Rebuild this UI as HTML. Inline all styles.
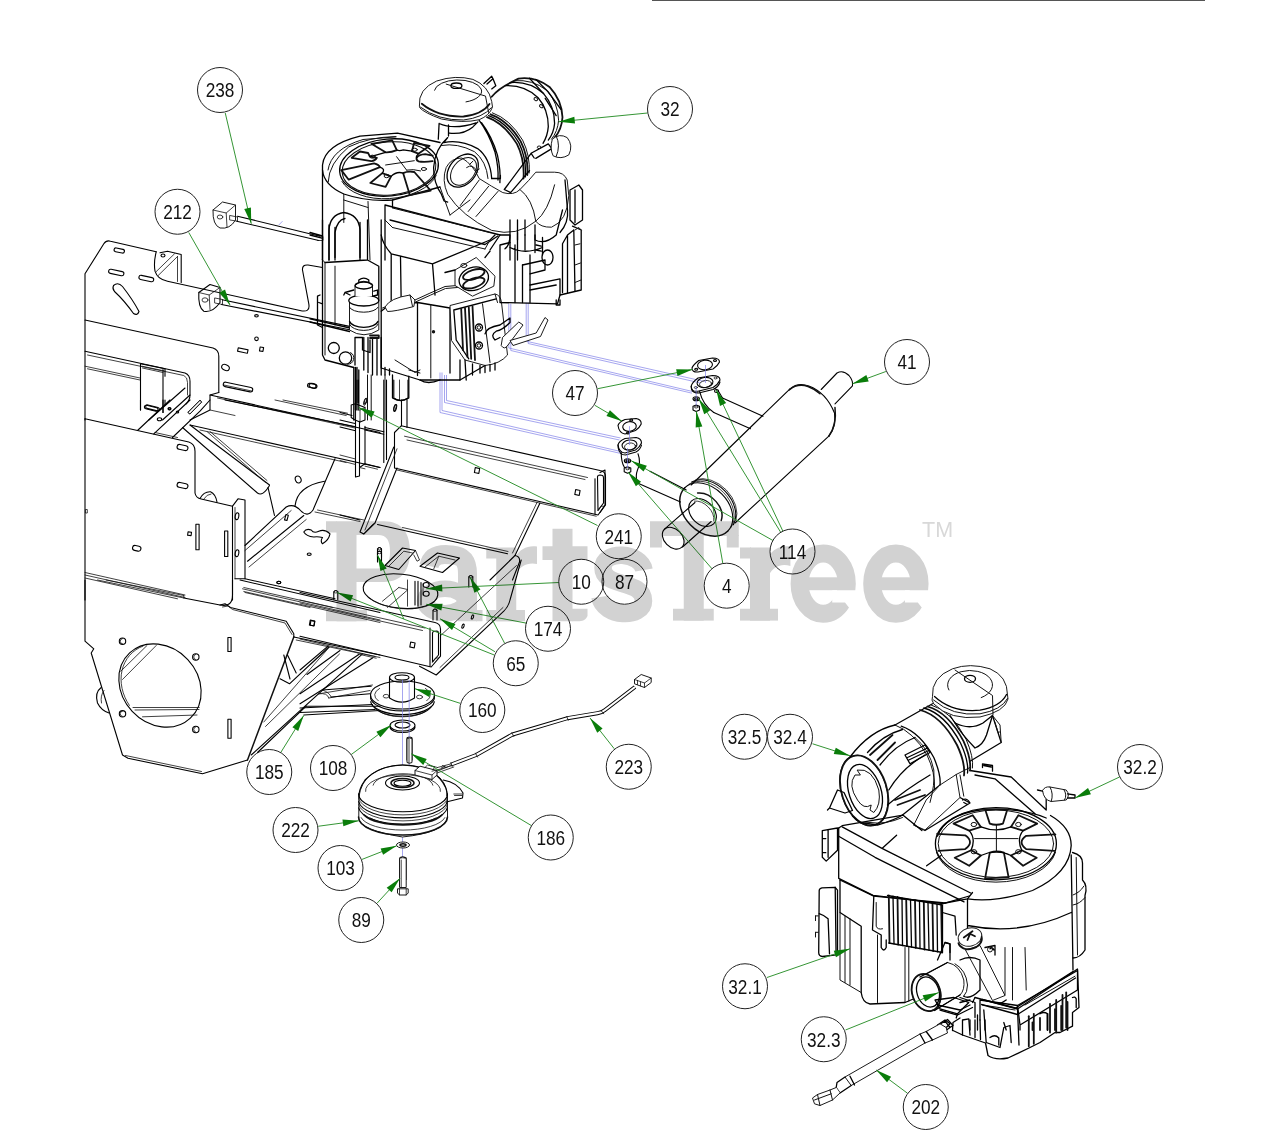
<!DOCTYPE html>
<html><head><meta charset="utf-8"><title>Parts Diagram</title>
<style>
html,body{margin:0;padding:0;background:#fff;}
body{width:1280px;height:1145px;overflow:hidden;font-family:"Liberation Sans",sans-serif;}
svg{display:block;position:absolute;left:0;top:0;}
.k{fill:none;stroke:#000;stroke-width:1.1;stroke-linecap:round;stroke-linejoin:round;}
.k2{fill:none;stroke:#111;stroke-width:1.5;stroke-linecap:round;stroke-linejoin:round;}
.t{fill:none;stroke:#111;stroke-width:.8;stroke-linecap:round;stroke-linejoin:round;}
.w{fill:#fff;stroke:#1a1a1a;stroke-width:1;stroke-linejoin:round;}
.e .k{stroke-width:1.3}.e .t{stroke-width:1}.e .k2{stroke-width:1.8}
.f{fill:#fff;stroke:none;}
.b{fill:none;stroke:#7f7fe8;stroke-width:.7;}
.g line{stroke:#2a8f2a;stroke-width:.95;}
.g polygon{fill:#0a7d0a;stroke:none;}
.c{opacity:.999}.c circle{fill:none;stroke:#222;stroke-width:1;}
.c text{font-family:"Liberation Sans",sans-serif;font-size:20.5px;fill:#111;text-anchor:middle;}
.wm{mix-blend-mode:multiply;font-family:"Liberation Serif",serif;font-weight:bold;fill:#d2d2d2;}
</style></head><body>
<svg width="1280" height="1145" viewBox="0 0 1280 1145">
<rect x="652" y="0" width="553" height="1" fill="#555"/>

<path class="k" d="M85.0,420.0L85.0,273.8L103.8,243.8Q106.2,240.0 110.5,241.2L156.2,251.8"/>
<path class="k" d="M156.2,251.8Q153.5,262.5 155.0,271.2Q157.5,279.5 167.5,281.2L300.0,310.5Q310.5,313.0 308.8,303.8L302.5,270.0Q302.0,264.5 308.0,265.0L322.5,267.5"/>
<path class="k" d="M160.0,252.8L167.5,251.2L181.2,254.5L181.2,282.5"/>
<path class="t" d="M177.5,256.5L177.5,281.5"/>
<path class="t" d="M158.2,275.5L177.5,256.5"/>
<path class="t" d="M156.0,271.8L174.5,253.8"/>
<ellipse class="k" cx="163.0" cy="255.5" rx="2.0" ry="1.5"/>
<rect class="k" x="114.0" y="248.6" width="10.5" height="3.8" rx="1.9" transform="rotate(12.0 119.2 250.5)"/>
<rect class="k" x="108.5" y="270.4" width="15.5" height="4.2" rx="2.1" transform="rotate(12.0 116.2 272.5)"/>
<rect class="k" x="138.8" y="276.4" width="15.0" height="4.2" rx="2.1" transform="rotate(12.0 146.2 278.5)"/>
<path class="k" d="M113.5,285.5Q118.0,281.5 122.5,286.5Q133.0,300.0 139.0,311.5Q137.5,316.0 133.5,313.5Q123.8,300.0 114.5,291.5Q112.0,288.5 113.5,285.5"/>
<path class="k" d="M198.8,292.5L210.0,284.5L220.0,287.5L220.0,302.5Q212.5,313.0 203.8,311.2Q198.0,307.5 198.8,292.5"/>
<path class="t" d="M198.8,292.5L209.2,295.0L220.0,287.5"/>
<path class="t" d="M209.2,295.0L210.0,309.5"/>
<ellipse class="t" cx="205.0" cy="300.0" rx="3.0" ry="2.2"/>
<path class="t" d="M215.0,298.0L222.5,299.5L222.5,304.5L215.0,303.0Z"/>
<path class="k" d="M222.2,299.8L349.5,326.4"/>
<path class="k" d="M221.5,304.5L349.5,329.8"/>
<ellipse class="k" cx="256.5" cy="315.8" rx="1.8" ry="1.2"/>
<ellipse class="k" cx="256.5" cy="338.8" rx="1.8" ry="1.8"/>
<rect class="k" x="259.8" y="347.2" width="3.5" height="4.0" transform="rotate(10.0 261.5 349.2)"/>
<rect class="k" x="237.8" y="348.8" width="10.0" height="3.5" transform="rotate(12.0 242.8 350.5)"/>
<ellipse class="k" cx="225.5" cy="367.5" rx="4.0" ry="2.8" transform="rotate(25.0 225.5 367.5)"/>
<rect class="k" x="307.5" y="383.8" width="8.5" height="4.0" rx="2.0" transform="rotate(12.0 311.8 385.8)"/>
<rect class="k" x="223.0" y="384.8" width="30.0" height="4.5" rx="2.2" transform="rotate(12.0 238.0 387.0)"/>
<path class="t" d="M223.8,385.0L252.5,391.2"/>
<path class="k" d="M85.0,320.0L213.0,348.0Q218.8,350.0 218.8,356.2L218.8,392.5"/>
<path class="k" d="M85.0,351.2L185.0,373.0Q190.0,375.0 190.0,381.2L190.0,395.0Q190.0,400.0 186.2,403.8"/>
<path class="t" d="M87.5,355.0L183.8,375.5Q187.5,377.0 187.5,382.5L187.5,395.0"/>
<path class="t" d="M85.0,366.2L140.0,378.0"/>
<path class="t" d="M87.5,368.8L140.0,380.0"/>
<path class="k" d="M140.5,363.8L165.0,368.8M140.5,363.8L140.5,410.0M163.0,369.5L163.0,412.5M165.0,368.8L165.0,376.2"/>
<path class="t" d="M142.0,366.2L163.8,370.8M142.5,368.0L163.0,372.5"/>
<rect class="k" x="145.5" y="406.2" width="14.0" height="3.5" rx="1.8" transform="rotate(14.0 152.5 408.0)"/>
<path class="k" d="M185.0,388.0L148.8,420.0"/>
<path class="k" d="M190.0,395.0L162.5,420.0"/>
<path class="k" d="M218.8,392.5L210.0,395.0L210.0,410.0L190.0,420.0"/>
<path class="t" d="M200.0,400.5L188.0,412.5L190.0,414.0L201.5,402.5Z"/>
<ellipse class="k" cx="169.5" cy="408.8" rx="1.2" ry="1.0"/>
<ellipse class="k" cx="177.5" cy="412.0" rx="1.2" ry="1.0"/>
<path class="k" d="M210.0,395.0L380.0,432.5"/>
<path class="t" d="M217.5,398.0L355.0,428.0"/>
<path class="t" d="M210.0,410.0L235.0,415.5"/>

<path class="k" d="M85.0,418.8L188.8,442.0Q195.0,444.0 195.0,451.2L195.0,493.0Q195.8,498.0 201.2,499.0L232.5,506.2L232.5,600.0"/>
<path class="k" d="M85.0,418.8L85.0,600.0"/>
<path class="k" d="M232.5,506.2L238.0,498.8L245.0,500.0L245.0,578.8"/>
<path class="t" d="M235.0,507.5L235.0,578.8"/>
<path class="k" d="M200.0,498.5Q203.8,491.5 210.5,491.8Q215.5,494.0 217.0,502.0"/>
<path class="t" d="M203.8,499.0Q207.0,494.0 211.0,494.0"/>
<path class="t" d="M85.0,572.5L185.0,595.0M85.0,575.0L185.0,597.5M85.0,578.0L177.5,598.8"/>
<rect class="k" x="177.0" y="445.0" width="11.0" height="5.0" rx="2.5" transform="rotate(12.0 182.5 447.5)"/>
<rect class="k" x="177.0" y="483.0" width="11.0" height="5.0" rx="2.5" transform="rotate(12.0 182.5 485.5)"/>
<rect class="k" x="132.5" y="545.8" width="8.5" height="5.0" rx="2.5" transform="rotate(12.0 136.8 548.2)"/>
<rect class="k" x="187.8" y="532.0" width="3.5" height="3.5" transform="rotate(8.0 189.5 533.8)"/>
<rect class="k" x="195.9" y="524.2" width="3.2" height="25.5" transform="rotate(0.0 197.5 537.0)"/>
<rect class="k" x="224.6" y="531.0" width="3.2" height="25.5" transform="rotate(0.0 226.2 543.8)"/>
<rect class="t" x="85.8" y="509.5" width="1.5" height="3.5" transform="rotate(0.0 86.5 511.2)"/>
<ellipse class="k" cx="237.0" cy="516.2" rx="1.8" ry="3.5" transform="rotate(10.0 237.0 516.2)"/>
<ellipse class="k" cx="237.0" cy="553.2" rx="1.8" ry="3.5" transform="rotate(10.0 237.0 553.2)"/>
<path class="k" d="M190.0,425.0L269.5,485.0"/>
<path class="k" d="M182.5,427.5L257.5,493.0Q262.5,497.0 269.5,485.5"/>
<path class="t" d="M207.5,432.0L265.5,482.5"/>
<path class="t" d="M210.0,431.5L267.0,480.5"/>
<path class="k" d="M268.0,487.5L274.5,515.5"/>
<path class="k" d="M190.0,425.0L380.0,467.5"/>
<path class="t" d="M200.0,430.0L346.2,462.5"/>
<path class="t" d="M155.0,432.5L177.5,437.5"/>
<path class="k" d="M225.0,400.0L354.5,426.5"/>
<path class="t" d="M275.0,400.0L346.2,415.5M283.0,400.0L347.5,413.2"/>
<path class="k" d="M137.5,430.5L170.0,400.0M153.8,433.8L190.0,400.0"/>
<path class="k" d="M172.5,437.5L200.0,411.2L210.0,400.0"/>
<ellipse class="k" cx="159.5" cy="419.2" rx="2.2" ry="1.5"/>
<ellipse class="k" cx="169.5" cy="408.8" rx="1.5" ry="1.2"/>
<path class="t" d="M188.0,412.0L200.0,400.0L201.5,402.0L190.0,413.8Z"/>
<path class="k" d="M140.5,400.0L140.5,410.0M163.0,400.0L163.0,412.5M165.0,400.0L165.0,405.0"/>
<rect class="k" x="144.2" y="406.5" width="14.0" height="3.5" rx="1.8" transform="rotate(14.0 151.2 408.2)"/>
<path class="k" d="M245.0,545.5L286.2,507.0Q293.8,503.0 300.5,510.5Q307.5,518.0 313.0,510.0L335.0,458.8"/>
<path class="k" d="M247.5,561.2L303.8,515.5"/>
<path class="t" d="M245.0,550.5L291.2,510.5M249.0,567.0L306.2,519.5"/>
<rect class="k" x="285.2" y="514.8" width="2.5" height="5.5" transform="rotate(15.0 286.5 517.5)"/>
<path class="k" d="M295.0,506.0Q297.0,486.2 324.5,481.2"/>
<ellipse class="k" cx="298.2" cy="479.5" rx="2.8" ry="3.5" transform="rotate(-25.0 298.2 479.5)"/>
<path class="k" d="M235.0,578.8L245.0,578.8L335.0,598.8"/>
<path class="t" d="M243.8,587.5L332.5,607.5M245.0,592.5L310.0,607.5"/>
<path class="t" d="M317.5,510.0L363.8,520.0M315.0,512.0L360.0,521.5"/>
<path class="k" d="M303.8,532.0Q306.2,528.0 311.2,530.0Q313.8,533.8 318.8,531.2Q325.0,528.8 330.0,533.8Q328.8,540.0 322.5,543.8Q320.0,541.2 322.5,537.5Q317.5,536.2 313.8,537.0Q306.2,536.2 303.8,532.0"/>
<ellipse class="k" cx="309.2" cy="554.2" rx="2.0" ry="1.2"/>
<ellipse class="k" cx="278.8" cy="582.5" rx="2.0" ry="1.2"/>

<path class="k" d="M85.0,580.0L85.0,641.2L93.8,648.8L91.2,653.0L122.5,755.0L128.0,758.2L202.5,773.8L247.5,760.0"/>
<path class="k2" d="M247.5,760.0L293.8,637.0"/>
<path class="t" d="M125.5,755.5L201.5,771.5"/>
<path class="t" d="M97.5,580.0L183.8,598.0L183.8,595.5M106.2,580.0L183.8,595.5"/>
<path class="k" d="M183.8,598.0L220.0,605.0Q232.5,607.5 232.5,595.0L232.5,580.0"/>
<path class="k" d="M220.0,605.0L225.0,603.8L230.5,607.5L286.2,621.2L293.8,633.8L293.8,637.0"/>
<path class="t" d="M222.5,607.0L228.0,606.0L232.5,609.5L285.0,623.0L292.0,634.5"/>
<path class="k" d="M240.0,580.0L380.0,612.5"/>
<path class="t" d="M242.5,588.8L380.0,620.0M243.8,591.5L380.0,622.5"/>
<path class="k" d="M293.8,637.0L380.0,655.0"/>
<path class="t" d="M296.2,640.0L380.0,657.5"/>
<rect class="k" x="310.5" y="621.0" width="4.0" height="4.5" transform="rotate(10.0 312.5 623.2)"/>
<ellipse class="k" cx="278.8" cy="582.5" rx="2.0" ry="1.2"/>
<ellipse class="k" cx="160.0" cy="685.5" rx="44.5" ry="38.0" transform="rotate(47.0 160.0 685.5)"/>
<path class="t" d="M129.4,705.4A44.5,38.0 47.0 0 1 143.0,646.1"/>
<ellipse class="k" cx="122.5" cy="641.2" rx="3.2" ry="3.2"/>
<path class="t" d="M122.5,644.0A2.8,2.8 0.0 0 1 122.5,638.5"/>
<ellipse class="k" cx="195.8" cy="657.0" rx="3.2" ry="3.2"/>
<path class="t" d="M195.8,659.7A2.8,2.8 0.0 0 1 195.8,654.3"/>
<ellipse class="k" cx="122.5" cy="713.8" rx="3.2" ry="3.2"/>
<path class="t" d="M122.5,716.5A2.8,2.8 0.0 0 1 122.5,711.0"/>
<ellipse class="k" cx="195.8" cy="729.5" rx="3.2" ry="3.2"/>
<path class="t" d="M195.8,732.2A2.8,2.8 0.0 0 1 195.8,726.8"/>
<rect class="k" x="227.9" y="637.5" width="3.2" height="14.0" transform="rotate(0.0 229.5 644.5)"/>
<rect class="k" x="227.9" y="719.2" width="3.2" height="19.0" transform="rotate(0.0 229.5 728.8)"/>
<path class="t" d="M120.8,671.2L147.0,645.5M122.5,679.5L156.2,645.5"/>
<path class="t" d="M133.0,707.5L199.2,707.5M135.0,710.0L199.0,709.5M142.5,716.8L197.0,715.0"/>
<path class="k" d="M101.2,687.5Q94.5,692.5 97.5,703.0Q101.2,710.5 109.0,713.0"/>
<path class="t" d="M104.0,690.5Q100.0,695.5 101.5,703.0"/>
<path class="k" d="M251.2,755.0L362.5,653.8"/>
<path class="t" d="M263.8,722.0L329.5,647.0M265.5,726.5L339.5,654.0"/>
<path class="k" d="M257.5,752.5L306.2,706.2"/>
<path class="k" d="M283.8,655.0L290.0,679.0M287.5,655.0L296.2,673.0"/>
<path class="k" d="M280.0,678.8L289.5,683.8L328.8,647.0"/>
<path class="k" d="M306.2,706.2L380.0,706.2M303.8,715.0L380.0,710.5"/>
<path class="t" d="M318.8,693.8L372.5,685.0M328.8,698.0L370.0,690.5M318.8,693.8Q327.5,692.5 328.8,698.0"/>

<path class="k" d="M394.5,468.0L394.5,432.5L401.2,425.8L600.0,470.5Q605.5,471.5 605.5,476.5L605.5,505.0L598.0,515.0L394.5,468.0"/>
<path class="t" d="M404.5,436.2L587.5,477.5M407.0,440.0L585.0,479.5"/>
<path class="t" d="M397.0,470.0L596.2,516.2"/>
<path class="k" d="M595.0,478.8L595.0,513.8"/>
<path class="k" d="M597.5,477.0Q597.5,475.0 600.0,475.0L602.5,475.5Q603.5,476.0 603.5,478.0L603.5,503.0L598.0,510.5Z"/>
<path class="t" d="M598.0,510.5L601.0,506.2L603.5,506.2"/>
<rect class="k" x="474.8" y="468.0" width="4.5" height="5.0" transform="rotate(10.0 477.0 470.5)"/>
<rect class="k" x="575.2" y="490.0" width="4.5" height="5.0" transform="rotate(10.0 577.5 492.5)"/>
<path class="k" d="M355.5,380.0L355.5,477.0L359.5,476.0L359.5,421.2M357.0,380.0L357.0,402.5M358.5,380.0L358.5,402.5"/>
<path class="k" d="M351.2,405.0L355.5,403.8L365.0,407.5L365.0,420.0L360.0,422.0L355.0,420.0L351.2,417.5Z"/>
<path class="t" d="M355.5,403.8L355.5,420.0M360.0,410.0L360.0,422.0M360.0,410.0L365.0,407.5"/>
<ellipse class="t" cx="365.0" cy="402.0" rx="1.2" ry="3.5" transform="rotate(15.0 365.0 402.0)"/>
<path class="k" d="M365.0,426.2L365.0,463.8L359.5,467.5"/>
<path class="k" d="M383.8,380.0L383.8,462.5M386.5,380.0L386.5,459.5M401.5,400.0L401.5,425.8M407.0,399.5L407.0,427.5"/>
<path class="k" d="M393.8,380.0L393.8,398.0Q400.5,403.0 408.0,398.0L408.0,380.0"/>
<path class="t" d="M399.5,380.0L399.5,400.5"/>
<ellipse class="k" cx="395.2" cy="408.0" rx="1.2" ry="3.5" transform="rotate(15.0 395.2 408.0)"/>
<path class="k" d="M393.8,447.0L360.0,532.0L363.8,534.0L375.0,523.0L397.0,468.0"/>
<path class="t" d="M397.0,448.8L365.0,530.0"/>
<path class="t" d="M375.0,523.0L372.0,525.0L363.8,534.0"/>
<path class="k" d="M340.0,412.5L352.0,415.5M340.0,420.0L355.0,423.5M340.0,427.0L355.5,430.8M365.0,427.5L383.8,431.8M365.0,430.0L383.8,434.2"/>
<path class="t" d="M340.0,455.0L355.5,459.0M340.0,460.5L355.5,464.5M365.0,466.2L377.5,469.2M359.5,467.5L365.0,468.8"/>
<path class="k" d="M365.0,463.8L380.0,467.5"/>
<path class="k" d="M340.0,515.0L360.0,520.0M377.5,524.5L507.5,553.8"/>
<path class="t" d="M402.5,527.5L508.0,551.5"/>
<path class="k" d="M540.0,503.0L515.0,555.5Q520.5,556.5 519.5,562.0L512.5,580.0"/>
<path class="t" d="M537.0,502.5L512.5,553.0"/>
<path class="k" d="M515.0,555.5L490.0,580.0"/>
<path class="k" d="M385.0,565.5L402.5,548.0L415.5,550.5L398.8,569.5Z"/>
<path class="t" d="M388.8,566.2L403.8,551.2L412.5,553.0M415.5,550.5L419.5,560.0L417.0,561.2L413.8,555.0"/>
<path class="k" d="M420.0,566.2L437.5,553.0L459.5,558.0L442.5,572.5Z"/>
<path class="t" d="M425.0,567.0L438.8,556.2L455.0,560.0M438.8,556.2L433.8,568.8"/>
<path class="k" d="M377.5,562.0L377.5,552.5Q379.2,550.0 381.5,552.5L381.5,562.0"/>
<ellipse class="t" cx="379.5" cy="552.5" rx="2.0" ry="1.2"/>

<path class="k" d="M300.0,592.5L435.0,622.5Q440.5,623.8 440.5,629.0L440.5,656.2L431.2,667.0L300.0,636.2"/>
<path class="t" d="M300.0,600.0L425.0,628.0M300.0,603.0L422.5,630.5"/>
<path class="t" d="M300.0,639.0L375.0,656.5M358.0,654.0L376.2,658.2"/>
<path class="k" d="M430.0,628.0L430.0,666.2"/>
<path class="k" d="M432.5,633.0Q432.5,631.5 434.5,631.2L437.0,631.0Q438.5,631.2 438.5,633.0L438.5,655.0L432.5,662.0Z"/>
<path class="t" d="M432.5,662.0L435.5,658.0L438.5,658.0"/>
<rect class="k" x="309.8" y="620.5" width="4.5" height="5.0" transform="rotate(10.0 312.0 623.0)"/>
<rect class="k" x="410.2" y="642.5" width="4.5" height="5.0" transform="rotate(10.0 412.5 645.0)"/>
<path class="k" d="M521.2,560.0L510.0,600.0Q508.5,606.5 503.8,611.2L436.2,675.0L419.5,666.2"/>
<path class="t" d="M516.5,565.5L441.2,635.0"/>
<path class="t" d="M503.0,607.5L440.0,667.5"/>
<ellipse class="k" cx="463.0" cy="626.2" rx="1.0" ry="2.2" transform="rotate(20.0 463.0 626.2)"/>
<ellipse class="k" cx="472.5" cy="617.0" rx="1.0" ry="2.2" transform="rotate(20.0 472.5 617.0)"/>
<ellipse class="k" cx="400.5" cy="591.2" rx="37.5" ry="17.0" transform="rotate(6.0 400.5 591.2)"/>
<path class="t" d="M434.1,601.9A36.5,15.5 6.0 0 1 368.3,597.4"/>
<path class="t" d="M407.5,580.0L407.5,606.2M387.5,607.5L407.5,590.0M382.5,601.2L398.8,587.5M398.8,587.5L407.5,589.5"/>
<path class="k" d="M415.0,581.2L415.0,605.0M418.0,581.2L418.0,606.2M421.0,582.5L421.0,605.0"/>
<ellipse class="k" cx="426.2" cy="585.0" rx="3.0" ry="2.5"/>
<ellipse class="k" cx="426.2" cy="593.8" rx="3.0" ry="2.5"/>
<path class="t" d="M423.0,583.8L423.0,595.0"/>
<path class="k" d="M333.8,599.5L333.8,592.0Q335.8,589.0 337.8,592.0L337.8,599.5"/>
<ellipse class="t" cx="335.8" cy="591.8" rx="2.0" ry="1.2"/>
<path class="k" d="M468.8,587.0L468.8,577.0Q470.8,574.0 472.8,577.0L472.8,587.0"/>
<ellipse class="t" cx="470.8" cy="576.8" rx="2.0" ry="1.2"/>
<path class="k" d="M433.0,620.0L433.0,610.5Q435.0,607.5 437.0,610.5L437.0,620.0"/>
<ellipse class="t" cx="435.0" cy="610.2" rx="2.0" ry="1.2"/>
<path class="k" d="M377.5,557.5L377.5,549.0Q379.5,546.0 381.5,549.0L381.5,557.5"/>
<ellipse class="t" cx="379.5" cy="548.8" rx="2.0" ry="1.2"/>
<ellipse class="k" cx="402.0" cy="677.5" rx="12.5" ry="4.8"/>
<ellipse class="k" cx="402.0" cy="677.5" rx="7.0" ry="2.5"/>
<path class="k" d="M389.5,677.5L389.5,698.0Q402.0,706.2 414.5,698.0L414.5,677.5"/>
<ellipse class="k" cx="402.5" cy="695.0" rx="32.0" ry="14.0"/>
<path class="k" d="M434.4,695.8A32.0,14.0 0.0 1 1 370.6,695.8"/>
<path class="t" d="M378.3,700.8A28.0,11.5 0.0 0 1 379.6,688.4"/>
<path class="t" d="M425.4,688.4A28.0,11.5 0.0 0 1 426.7,700.8"/>
<path class="k" d="M434.4,701.7A32.0,14.0 0.0 0 1 370.6,701.7"/>
<path class="k" d="M431.0,707.0A29.5,12.5 0.0 0 1 374.0,707.0"/>
<path class="t" d="M426.3,710.4A26.2,11.0 0.0 0 1 378.7,710.4"/>
<ellipse class="t" cx="386.2" cy="696.2" rx="3.0" ry="1.8"/>
<ellipse class="t" cx="419.5" cy="697.0" rx="3.0" ry="1.8"/>
<path class="k" d="M300.0,708.0L372.5,704.5M300.0,712.5L375.0,709.5M322.5,690.0L371.2,686.2M331.2,697.0L370.0,693.8"/>
<path class="t" d="M322.5,690.0Q329.5,692.5 331.2,697.0"/>
<ellipse class="k" cx="402.5" cy="725.5" rx="12.5" ry="5.5"/>
<ellipse class="k" cx="402.5" cy="725.0" rx="7.5" ry="3.0"/>
<path class="k" d="M415.0,727.0A12.5,5.5 0.0 0 1 390.0,727.0"/>
<path class="k" d="M407.0,760.0L407.0,738.0Q409.5,736.0 412.0,738.0L412.0,760.0"/>
<path class="k" d="M300.0,670.0L328.0,646.2M307.0,674.5L340.0,650.5M300.0,693.8L358.8,654.5M300.0,703.8L372.5,658.0"/>
<path class="t" d="M310.0,665.0L325.0,651.2"/>

<path class="b" d="M508.8,303.8L508.8,348.0L692.5,391.5M510.8,303.8L510.8,350.5L692.0,393.2M526.2,302.5L526.2,341.2L704.5,381.5M528.2,302.5L528.2,343.5L700.5,383.0"/>
<path class="b" d="M440.0,372.5L440.0,412.5L621.0,453.5M442.0,372.5L442.0,410.5L622.0,451.8M444.5,375.0L444.5,402.5L619.5,440.0M446.5,375.0L446.5,400.5L620.5,438.0"/>
<path class="b" d="M278.8,225.0L282.5,221.2"/>
<path class="w" d="M213.0,210.0L222.5,202.0L235.5,205.0L235.5,220.0Q230.0,229.5 220.0,228.0Q212.5,225.0 213.0,210.0Z"/>
<path class="t" d="M213.0,210.0L226.2,213.0L235.5,205.0M226.2,213.0L227.0,227.0"/>
<ellipse class="t" cx="220.0" cy="217.0" rx="2.8" ry="2.0"/>
<path class="t" d="M230.0,215.5L237.5,217.0L237.5,221.2L230.0,220.0Z"/>
<path class="k" d="M237.5,216.2L320.0,236.2M236.8,221.2L318.8,240.5"/>
<path class="t" d="M316.2,235.0L323.0,236.5L323.0,240.5L317.5,240.5"/>

<path class="k" d="M691.2,485.0L790.0,388.8"/>
<path class="k" d="M735.0,523.0L828.8,436.2"/>
<path class="k" d="M790.0,388.8Q798.0,382.0 808.8,386.0Q826.2,392.5 834.5,413.0Q836.5,426.2 828.8,436.2"/>
<path class="k2" d="M789.2,390.0Q797.5,383.0 808.0,386.5Q815.0,389.0 820.0,393.8"/>
<path class="k2" d="M835.0,407.5Q837.0,425.0 828.8,436.2"/>
<path class="k" d="M821.2,389.5L837.0,373.0Q843.0,369.5 849.0,375.5Q853.2,380.5 852.5,385.8L835.0,403.8"/>
<path class="k2" d="M727.6,531.3A30.5,22.0 45.7 0 1 684.9,487.7"/>
<path class="k" d="M684.9,487.7A30.5,22.0 45.7 0 1 727.6,531.3"/>
<path class="t" d="M688.8,484.2A30.5,22.0 45.7 0 1 731.0,527.5"/>
<path class="k" d="M691.7,482.0A30.5,22.0 45.7 0 1 733.4,524.7"/>
<path class="t" d="M695.9,479.5A30.5,22.0 45.7 0 1 735.9,520.5"/>
<path class="k" d="M695.0,502.5L664.5,529.2M711.2,521.5L682.5,547.0"/>
<ellipse class="k" cx="702.5" cy="512.5" rx="16.0" ry="11.5" transform="rotate(45.7 702.5 512.5)"/>
<path class="t" d="M694.4,501.1A16.0,11.5 45.7 0 1 713.8,520.9"/>
<path class="k2" d="M697.6,493.0A20.0,14.5 45.7 0 1 721.2,520.5"/>
<ellipse class="k" cx="673.2" cy="538.2" rx="12.5" ry="9.0" transform="rotate(45.7 673.2 538.2)"/>
<path class="k" d="M722.5,398.0L763.0,416.2M713.8,412.5L750.5,428.8"/>
<path class="k" d="M699.5,391.2Q703.0,405.5 713.8,412.5M718.0,390.5L722.5,398.0"/>
<path class="k" d="M650.0,471.2L686.2,490.0M637.5,483.0L680.5,502.0"/>
<path class="k" d="M621.2,452.5Q621.2,462.5 624.5,467.5M638.0,453.8Q641.2,462.5 637.5,470.0Q635.0,476.2 637.5,483.0"/>
<path class="k" d="M692.0,368.0Q693.0,365.0 698.8,360.5L712.5,358.0Q719.5,358.0 719.5,362.0Q717.5,366.2 713.0,369.0L698.0,372.0Q692.0,372.5 692.0,368.0Z"/>
<ellipse class="k" cx="705.0" cy="365.0" rx="7.5" ry="4.8" transform="rotate(-8.0 705.0 365.0)"/>
<ellipse class="k" cx="696.2" cy="369.2" rx="1.5" ry="1.0"/>
<ellipse class="k" cx="715.0" cy="360.5" rx="1.5" ry="1.0"/>
<path class="k" d="M618.0,425.5Q619.0,422.0 625.0,419.5L636.2,418.5Q641.5,419.5 641.2,424.0Q639.5,428.0 635.5,430.5L625.0,434.0Q619.0,433.0 618.0,425.5Z"/>
<ellipse class="k" cx="629.5" cy="426.5" rx="6.8" ry="4.8" transform="rotate(-8.0 629.5 426.5)"/>
<ellipse class="k" cx="631.2" cy="420.0" rx="1.5" ry="1.0"/>
<ellipse class="k" cx="628.0" cy="433.0" rx="1.5" ry="1.0"/>
<path class="k" d="M691.2,386.2Q692.0,382.5 698.0,378.0L712.5,375.5Q720.0,375.5 720.0,380.0Q718.0,384.5 713.0,387.5L698.0,391.2Q691.0,392.0 691.2,386.2Z"/>
<path class="k" d="M691.2,386.2L691.5,389.0Q692.5,393.0 698.8,393.0L713.0,389.5Q718.5,387.0 720.0,382.0"/>
<ellipse class="k" cx="705.0" cy="382.5" rx="8.0" ry="5.0" transform="rotate(-8.0 705.0 382.5)"/>
<ellipse class="t" cx="705.5" cy="384.0" rx="6.0" ry="3.5" transform="rotate(-8.0 705.5 384.0)"/>
<ellipse class="t" cx="695.8" cy="387.5" rx="1.5" ry="1.0"/>
<ellipse class="t" cx="715.5" cy="378.0" rx="1.5" ry="1.0"/>
<path class="k" d="M618.0,445.0Q619.0,441.0 625.0,438.5L636.2,437.5Q641.5,438.5 641.5,443.0Q639.5,447.5 635.5,450.0L625.0,453.0Q619.0,452.5 618.0,445.0Z"/>
<path class="k" d="M618.0,445.0L618.2,448.0Q619.5,455.0 625.5,455.0L636.0,452.0Q640.5,449.5 641.5,445.0"/>
<ellipse class="k" cx="629.5" cy="445.0" rx="7.5" ry="5.0" transform="rotate(-8.0 629.5 445.0)"/>
<ellipse class="t" cx="630.0" cy="446.5" rx="5.5" ry="3.5" transform="rotate(-8.0 630.0 446.5)"/>
<ellipse class="k" cx="696.2" cy="398.8" rx="3.2" ry="2.0"/>
<ellipse class="k2" cx="696.2" cy="398.8" rx="1.5" ry="1.0"/>
<path class="k" d="M693.0,406.2L696.2,405.0L699.5,406.2L699.5,410.0L696.2,411.5L693.0,410.0Z"/>
<ellipse class="t" cx="696.2" cy="407.0" rx="1.8" ry="1.0"/>
<ellipse class="k" cx="716.5" cy="391.0" rx="2.0" ry="1.5"/>
<ellipse class="k" cx="627.5" cy="460.8" rx="3.2" ry="2.0"/>
<ellipse class="k2" cx="627.5" cy="460.8" rx="1.5" ry="1.0"/>
<path class="k" d="M624.2,468.0L627.5,466.8L630.8,468.0L630.8,471.8L627.5,473.2L624.2,471.8Z"/>
<ellipse class="t" cx="627.5" cy="468.8" rx="1.8" ry="1.0"/>
<path class="k" d="M600.0,472.5L605.0,470.0L605.0,505.0L600.0,512.5"/>
<path class="b" d="M705.5,365.0L705.5,383.0M629.5,426.2L629.5,445.0M696.2,386.2L696.2,405.5M627.5,448.0L627.5,468.0"/>

<path class="b" d="M402.5,680.0L402.5,880.0M409.2,680.0L409.2,766.2"/>
<path class="w" d="M358.8,818.8Q360.0,830.0 402.5,837.0Q445.0,832.5 447.5,817.0L447.5,795.0Q445.0,767.5 402.5,765.0Q362.5,767.0 358.8,797.5Z"/>
<path class="k2" d="M447.5,817.0A44.5,18.0 0.0 0 1 358.5,817.0"/>
<path class="t" d="M444.9,817.6A42.5,15.0 0.0 0 1 361.1,817.6"/>
<path class="k" d="M447.3,807.8A44.5,18.0 0.0 0 1 358.7,807.8"/>
<path class="t" d="M447.3,804.6A44.5,18.0 0.0 0 1 358.7,804.6"/>
<path class="k" d="M447.3,801.6A44.5,18.0 0.0 0 1 358.7,801.6"/>
<path class="t" d="M447.3,798.6A44.5,18.0 0.0 0 1 358.7,798.6"/>
<path class="k" d="M447.5,793.8A44.5,18.0 0.0 0 1 358.5,793.8"/>
<path class="k2" d="M441.8,815.1A41.2,15.0 0.0 0 1 364.2,815.1"/>
<path class="t" d="M435.5,818.2A37.5,12.5 0.0 0 1 370.5,818.2"/>
<path class="k" d="M359.0,797.5Q358.0,790.0 365.0,780.0Q380.0,765.0 403.0,765.0Q427.5,765.5 440.0,778.8Q447.5,787.5 447.0,795.5"/>
<path class="t" d="M365.6,791.4A37.5,15.5 0.0 1 1 440.4,791.4"/>
<path class="t" d="M373.1,785.2A30.0,12.5 0.0 0 1 432.9,785.2"/>
<ellipse class="k" cx="402.5" cy="783.0" rx="17.0" ry="7.0"/>
<ellipse class="k2" cx="402.5" cy="783.0" rx="11.5" ry="4.5"/>
<ellipse class="k" cx="402.5" cy="783.2" rx="8.5" ry="3.0"/>
<path class="k" d="M443.2,780.0Q457.5,782.5 463.0,793.0L462.5,798.0L446.2,802.0"/>
<path class="t" d="M453.8,794.0L462.0,794.0M454.5,795.5L462.0,795.5"/>
<path class="w" d="M415.0,770.5L420.0,766.2L437.0,770.5L437.0,775.0L432.0,779.5L415.0,775.0Z"/>
<path class="t" d="M415.0,770.5L432.0,775.0L437.0,770.5M432.0,775.0L432.0,779.5"/>
<path class="t" d="M425.0,767.5L427.5,765.0L435.0,767.0L433.0,769.5"/>
<path class="t" d="M437.0,771.2L452.5,765.0M437.0,773.0L453.8,767.0M441.2,768.0L445.0,766.2"/>
<path class="w" d="M407.0,762.5L407.0,738.8Q409.5,736.8 412.0,738.8L412.0,762.5Q409.5,764.0 407.0,762.5Z"/>
<path class="t" d="M409.0,738.0L409.0,763.0"/>
<path class="w" d="M399.5,880.0L399.5,858.0Q402.8,856.0 406.2,858.0L406.2,880.0"/>
<ellipse class="t" cx="402.8" cy="858.0" rx="3.2" ry="1.2"/>
<ellipse class="w" cx="403.0" cy="845.0" rx="6.5" ry="3.0"/>
<ellipse class="k2" cx="403.0" cy="845.0" rx="3.0" ry="1.2"/>
<path class="w" d="M399.5,858.8L399.5,887.5L406.2,887.5L406.2,858.8"/>
<path class="w" d="M397.5,888.8L408.2,888.8L408.2,893.0L406.2,895.0L399.5,895.0L397.5,893.0Z"/>
<path class="t" d="M399.5,888.8L399.5,895.0M406.2,888.8L406.2,895.0M401.2,860.0L401.2,887.5"/>

<path d="M635.0,687.0L605.0,710.0Q602.0,712.5 597.5,713.2L567.5,718.2L512.5,734.5L476.2,755.0L451.2,764.5" fill="none" stroke="#000" stroke-width="4" stroke-linejoin="round"/>
<path d="M635.0,687.0L605.0,710.0Q602.0,712.5 597.5,713.2L567.5,718.2L512.5,734.5L476.2,755.0L451.2,764.5" fill="none" stroke="#fff" stroke-width="2.2" stroke-linejoin="round"/>
<path class="t" d="M566.8,716.5L568.2,720.2M511.8,732.8L513.8,736.5M475.5,753.2L477.5,757.0M450.8,762.8L452.2,766.5M601.2,710.8L603.8,713.8"/>
<path class="w" d="M634.5,679.5L641.2,674.5L651.2,678.0L651.2,682.5L644.5,687.5L634.5,683.8Z"/>
<path class="t" d="M634.5,679.5L644.5,683.0L651.2,678.0M644.5,683.0L644.5,687.5M637.5,680.5L637.5,684.5M640.5,681.8L640.5,685.8"/>
<path class="t" d="M451.2,763.8L437.5,767.5M451.8,765.5L438.8,769.5M437.5,767.5L430.0,765.5M438.8,769.5L432.0,771.2M442.5,765.5L446.2,767.5"/>

<g class="e"><path class="k" d="M322.5,260.0L322.5,165.0Q324.5,145.0 360.0,136.2L397.5,133.2L440.0,142.5"/>
<path class="t" d="M328.0,170.0Q331.2,149.0 363.0,139.5L396.2,136.8"/>
<path class="k" d="M322.5,170.0Q323.8,185.0 343.8,194.0Q367.5,202.0 392.5,200.0L440.0,187.0"/>
<path class="t" d="M343.8,194.0L343.8,222.5M368.0,201.5L370.0,260.0M343.8,200.0L368.0,207.5"/>
<ellipse class="k" cx="389.0" cy="167.5" rx="49.5" ry="28.5" transform="rotate(-5.0 389.0 167.5)"/>
<ellipse class="t" cx="389.0" cy="168.5" rx="47.0" ry="26.5" transform="rotate(-5.0 389.0 168.5)"/>
<path class="t" d="M436.2,175.7A49.5,28.5 -5.0 0 1 342.0,181.5"/>
<path class="k2" d="M351.7,157.8L359.9,151.5L368.1,153.0L369.9,156.7L376.9,157.8Q374.7,161.3 371.2,161.1Z"/>
<path class="k2" d="M341.3,170.1L374.1,163.3Q379.1,164.6 379.9,167.2L348.7,179.7Z"/>
<path class="k2" d="M370.3,183.0L382.3,173.1Q385.6,174.4 391.1,176.4L385.6,186.9Z"/>
<path class="k2" d="M371.4,143.8L392.2,140.3L396.8,150.2Q391.1,152.6 385.6,152.3Z"/>
<path class="k2" d="M403.1,173.1Q407.5,170.9 414.3,172.0L430.7,190.6L409.9,195.2Z"/>
<path class="k2" d="M414.1,143.0L429.6,145.8L418.4,153.7L411.9,151.2Z"/>
<path class="k2" d="M416.5,158.0Q418.7,154.5 425.2,154.1L432.7,155.6M418.4,161.3Q423.9,162.4 432.7,161.1M416.5,158.0Q416.2,160.2 418.4,161.3"/>
<path class="k" d="M369.9,156.7Q381.2,153.7 385.6,152.3M396.8,150.2Q399.8,151.2 403.3,149.9L411.9,151.2M379.9,167.2Q385.8,169.0 382.3,173.1M391.1,176.4Q396.6,170.9 403.1,173.1M418.4,153.7Q416.2,155.6 416.5,158.0"/>
<path class="t" d="M385.6,165.0L414.3,160.7M396.6,156.7L406.6,170.1M406.6,170.1Q413.0,168.7 420.6,170.9"/>
<ellipse class="t" cx="372.5" cy="156.7" rx="2.6" ry="1.5"/>
<ellipse class="t" cx="414.7" cy="149.7" rx="2.6" ry="1.5"/>
<ellipse class="t" cx="386.7" cy="176.0" rx="2.6" ry="1.7"/>
<ellipse class="t" cx="423.9" cy="169.0" rx="2.6" ry="1.5"/>
<path class="t" d="M328.2,181.9Q328.7,163.5 348.7,146.9Q369.4,137.0 395.5,136.6"/>
<path class="f" d="M479.2,120.3L491.7,96.7Q498.0,88.9 510.6,82.6L518.5,78.6Q535.8,76.3 549.9,87.3Q561.7,99.9 562.5,117.2Q561.7,129.7 554.6,137.6L548.3,143.9L504.3,189.5L498.0,180.0Z"/>
<path class="k2" d="M491.7,96.7Q498.0,88.9 510.6,82.6L518.5,78.6Q535.8,76.3 549.9,87.3Q561.7,99.9 562.5,117.2Q561.7,129.7 554.6,137.6"/>
<path class="k" d="M510.6,82.6Q529.5,81.0 543.6,93.6Q554.6,106.2 554.6,123.5Q553.8,132.9 548.3,140.1"/>
<path class="k" d="M505.9,85.7Q524.8,84.9 538.1,97.7Q548.3,109.3 548.3,126.6Q547.6,136.0 543.0,143.3"/>
<path class="t" d="M514.5,80.7Q532.6,79.1 546.8,90.4Q558.1,103.0 558.6,120.3Q557.8,131.3 551.5,139.2"/>
<path class="k" d="M529.5,78.2L543.6,93.6M535.8,79.4L548.3,92.0M548.3,92.0L560.9,109.3M545.2,98.3L556.2,115.6"/>
<ellipse class="t" cx="535.8" cy="99.1" rx="1.9" ry="1.4" transform="rotate(30.0 535.8 99.1)"/>
<ellipse class="t" cx="541.3" cy="106.2" rx="1.9" ry="1.4" transform="rotate(30.0 541.3 106.2)"/>
<path class="k2" d="M487.0,117.2Q504.3,123.5 516.9,143.9Q524.8,159.6 523.5,178.5"/>
<path class="k" d="M488.6,115.6Q506.2,121.9 518.8,142.6Q526.6,158.4 525.4,176.9"/>
<path class="k2" d="M490.5,114.3Q508.1,120.6 520.7,141.4Q528.5,157.1 527.3,175.0"/>
<path class="t" d="M492.4,112.8Q510.0,119.0 522.6,140.1Q530.4,155.8 529.2,173.0"/>
<path class="k" d="M479.2,120.3Q488.6,132.9 494.9,151.7Q498.8,167.5 498.0,180.0M481.5,122.7Q491.7,136.0 497.4,154.9Q500.9,170.6 499.9,182.6"/>
<path class="k" d="M504.3,189.5L531.1,153.3L548.3,143.9L551.8,148.6L535.8,158.4M531.1,153.3L534.2,158.0M504.3,189.5L510.6,192.6L529.5,170.6"/>
<ellipse class="t" cx="539.2" cy="147.3" rx="1.9" ry="1.3"/>
<path class="w" d="M552.3,139.2Q559.3,132.9 567.2,137.6Q573.5,145.5 568.8,154.9Q560.9,159.9 553.1,155.8Q549.6,148.6 552.3,139.2Z"/>
<path class="t" d="M556.2,136.0Q560.9,145.5 556.2,156.5"/>
<path class="k" d="M483.9,83.5L491.7,76.3L493.3,79.4L495.8,85.7L491.7,88.9M487.0,84.1L492.1,79.4"/>
<path class="k" d="M439.1,123.5L438.3,139.2M448.5,125.0L448.5,136.0M439.1,123.5Q454.0,130.1 476.0,122.8M449.3,133.2Q463.5,134.8 472.9,126.9L477.9,121.9"/>
<path class="w" d="M419.4,106.2Q417.9,88.9 436.7,81.0Q455.6,74.7 472.9,79.4Q488.6,85.7 491.7,101.4L492.5,107.1Q489.4,115.6 479.2,119.7Q463.5,123.5 441.4,119.0Q424.1,112.8 419.7,107.7Z"/>
<path class="k2" d="M421.8,103.8Q438.3,117.2 463.5,116.5Q482.3,114.3 489.5,104.0"/>
<path class="t" d="M420.4,107.1Q438.3,120.6 463.5,120.0Q482.6,117.8 491.4,107.7"/>
<ellipse class="k" cx="456.4" cy="85.7" rx="5.5" ry="2.7"/>
<path class="t" d="M434.5,90.2A23.6,11.3 0.0 1 1 466.0,101.9"/>
<path class="t" d="M446.2,84.1L485.5,96.1L488.6,112.4"/>
<path class="k" d="M447.7,137.6Q435.2,148.6 433.6,167.5Q433.6,183.2 441.4,194.2L444.0,200.8L447.7,202.1M443.8,142.6Q460.3,139.2 477.6,148.6Q490.2,158.0 491.7,178.5M447.7,137.6L443.8,142.6"/>
<path class="t" d="M441.4,145.5Q457.2,142.6 474.5,151.7Q486.4,161.2 488.0,178.5"/>
<path class="k" d="M491.7,178.5L500.4,178.5L500.4,175.3"/>
<path class="w" d="M446.2,167.5Q441.4,180.0 447.7,194.2Q461.9,216.2 491.7,230.4Q516.9,237.0 535.8,221.2Q540.5,227.5 551.5,227.2Q567.2,221.2 568.8,195.8L567.2,180.0Q564.1,172.2 554.6,172.2L535.8,172.2Q529.5,180.0 520.0,189.5Q513.8,195.8 502.8,192.6Q491.7,186.6 479.2,178.5Q472.9,164.3 461.9,158.0Q450.9,158.0 446.2,167.5Z"/>
<ellipse class="k" cx="462.7" cy="170.6" rx="18.6" ry="13.2" transform="rotate(-50.0 462.7 170.6)"/>
<ellipse class="t" cx="463.5" cy="171.4" rx="15.7" ry="10.7" transform="rotate(-50.0 463.5 171.4)"/>
<path class="t" d="M466.6,167.5Q472.9,162.8 477.6,172.2M469.7,164.3L472.9,161.2M476.0,170.6L479.2,169.0"/>
<path class="t" d="M479.2,180.0L460.3,205.5M498.0,191.4L476.0,216.5M488.6,186.3L468.2,211.5"/>
<path class="t" d="M535.8,221.2Q548.3,211.5 554.6,184.8M520.0,189.5Q532.6,198.9 535.8,221.2"/>
<path class="k" d="M385.0,205.0L500.0,235.0L490.0,250.0M392.5,200.0L392.5,207.5M385.0,205.0L385.0,260.0M390.0,220.0L485.0,244.5L497.5,236.2"/>
<path class="t" d="M392.5,208.0L490.0,232.5"/>
<path class="t" d="M440.0,187.0L450.0,215.0M450.0,215.0L470.0,200.0"/>
<path class="k" d="M329.0,260.0L329.0,230.0Q330.0,214.5 343.8,212.5Q358.8,214.5 360.0,230.0L360.0,260.0M335.0,260.0L335.0,232.5Q337.0,220.0 345.0,218.5"/>
<path class="k" d="M500.0,235.0L510.0,235.0L510.0,260.0M517.5,232.5L517.5,260.0M525.0,235.0L525.0,250.0"/>
<path class="k" d="M535.0,225.0L535.0,240.0Q545.0,245.0 556.2,235.0L562.5,210.0"/>
<path class="k" d="M565.0,180.0L567.5,210.0Q568.8,222.5 560.0,232.5"/>
<path class="k" d="M570.0,190.0L578.8,185.0L582.5,190.0L582.5,220.0L575.0,225.0L570.0,220.0ZM575.0,190.0L575.0,222.5"/>
</g>
<g class="e"><path class="k" d="M322.5,220.0L322.5,355.0L325.0,360.0L353.8,367.5M367.5,220.0L367.5,260.0M325.0,262.5L367.5,260.0L378.8,266.2L378.8,300.0"/>
<path class="k" d="M329.0,260.0L329.0,225.0M360.0,257.5L360.0,222.5M335.0,257.5L335.0,227.5"/>
<path class="t" d="M325.0,262.5L325.0,355.0M322.5,260.0L325.0,262.5M335.0,266.2L335.0,325.0"/>
<path class="k" d="M310.0,232.5L322.5,236.0M310.0,235.0L322.0,238.2"/>
<path class="k" d="M310.0,318.8L350.0,328.0M310.0,322.0L349.5,331.5"/>
<path class="w" d="M349.5,302.0L349.5,330.0Q363.8,339.5 378.8,330.0L378.8,300.0"/>
<ellipse class="k" cx="363.8" cy="300.5" rx="15.0" ry="5.5"/>
<path class="k" d="M378.0,321.3A14.5,7.5 0.0 0 1 349.5,321.3"/>
<path class="t" d="M378.0,324.3A14.5,7.5 0.0 0 1 349.5,324.3"/>
<path class="t" d="M378.0,307.3A14.5,6.0 0.0 0 1 349.5,307.3"/>
<path class="w" d="M355.0,296.2L355.0,285.5Q363.8,277.0 372.5,285.5L372.5,296.2"/>
<ellipse class="k" cx="363.8" cy="285.5" rx="8.8" ry="3.5"/>
<path class="k" d="M358.8,282.5L358.8,280.0Q363.8,276.2 368.8,280.0L368.8,282.5"/>
<path class="k" d="M345.0,292.5L353.8,290.0M373.8,291.2L377.5,290.0L377.5,295.0L372.5,296.2M350.0,295.0L345.0,292.5L343.8,295.0"/>
<ellipse class="k" cx="333.8" cy="348.0" rx="5.5" ry="5.5"/>
<ellipse class="k" cx="345.5" cy="358.0" rx="6.2" ry="6.2"/>
<path class="t" d="M350.6,352.6A6.2,6.2 0.0 0 1 347.5,364.2"/>
<path class="k" d="M320.0,295.0L317.5,296.2L317.5,325.0L322.5,327.5M318.8,302.5L322.5,303.8"/>
<path class="k" d="M363.8,337.5L363.8,370.0M368.0,337.5L368.0,372.5M372.5,337.5L372.5,375.0M377.0,338.8L377.0,375.0M381.2,337.5L381.2,375.0M385.0,367.5L385.0,375.0M389.5,368.8L389.5,375.0"/>
<path class="k" d="M355.0,337.5L362.5,337.5L362.5,350.0L370.0,352.5L370.0,340.0M355.0,337.5L355.0,365.0"/>
<path class="k2" d="M370.0,335.5L378.8,335.5L378.8,338.0L370.0,338.0"/>
<path class="k" d="M381.2,220.0L381.2,235.0Q382.5,243.8 391.2,253.8L432.5,263.8L490.0,240.0L495.0,235.0M391.2,253.8L391.2,303.8M432.5,263.8L435.0,295.0M400.5,257.0L401.2,302.5"/>
<path class="t" d="M392.5,227.5L485.0,249.0M385.0,220.0L392.5,227.5M490.0,240.0L485.0,249.0"/>
<path class="k" d="M381.2,235.0L381.2,311.2"/>
<path class="k" d="M381.2,311.2L387.5,306.2L417.5,302.5L450.0,308.0L450.0,373.0M417.5,302.5L417.5,375.5M381.2,311.2L381.2,368.0L420.0,380.0L460.0,380.0L485.0,365.5"/>
<path class="t" d="M430.8,304.5L430.8,378.0"/>
<ellipse class="k2" cx="433.5" cy="331.8" rx="0.8" ry="0.8"/>
<path class="w" d="M385.0,307.0Q390.0,298.0 410.0,295.0L415.0,300.0L413.8,306.5Q395.0,311.5 387.5,311.5Z"/>
<path class="t" d="M382.5,308.0L385.0,307.0M410.0,295.0L412.5,306.2"/>
<path class="t" d="M415.0,300.0Q430.0,293.0 445.0,286.5L457.5,285.5M415.5,302.0Q430.5,295.0 445.5,288.5L457.5,287.5"/>
<path class="w" d="M455.0,270.0L476.2,257.5L495.0,276.2L493.8,286.2L472.5,296.2L455.0,285.5Z"/>
<ellipse class="k2" cx="473.8" cy="274.5" rx="11.2" ry="4.5" transform="rotate(-18.0 473.8 274.5)"/>
<ellipse class="k2" cx="473.8" cy="283.0" rx="11.2" ry="4.5" transform="rotate(-18.0 473.8 283.0)"/>
<ellipse class="k" cx="473.8" cy="278.8" rx="15.0" ry="11.5" transform="rotate(-18.0 473.8 278.8)"/>
<path class="k" d="M485.0,257.5Q488.8,252.5 490.0,251.2M445.0,272.5L455.0,270.0"/>
<ellipse class="t" cx="463.8" cy="265.5" rx="3.0" ry="2.0"/>
<path class="w" d="M450.0,305.5L495.0,294.0Q500.5,295.0 501.5,302.5L507.5,355.0Q500.0,364.0 485.0,365.5L465.0,360.0L451.5,340.5Z"/>
<path class="k" d="M453.8,310.0L496.2,298.8M453.8,310.0L456.2,340.0L468.8,358.8"/>
<path class="k2" d="M472.5,306.2L475.0,360.0M468.8,307.5L471.2,358.8M465.0,308.0L467.5,357.0M461.2,309.0L463.0,350.0"/>
<path class="t" d="M482.5,303.8L490.0,362.5M495.0,294.0L497.5,302.5"/>
<ellipse class="k" cx="479.0" cy="327.5" rx="3.5" ry="3.5"/>
<ellipse class="k" cx="479.0" cy="345.5" rx="3.5" ry="3.5"/>
<ellipse class="t" cx="479.0" cy="327.5" rx="1.8" ry="1.8"/>
<ellipse class="t" cx="479.0" cy="345.5" rx="1.8" ry="1.8"/>
<path class="k" d="M485.0,333.8Q486.2,327.5 500.0,325.0L510.0,318.0L510.0,322.5Q502.5,330.0 496.2,331.2Q490.0,335.0 495.0,340.0L500.0,337.5"/>
<path class="w" d="M502.5,337.5L518.8,322.0L523.0,325.0L508.0,345.0Q504.5,350.5 501.2,345.5Z"/>
<path class="w" d="M510.0,340.5L536.2,333.0L545.0,317.5L548.0,320.0L540.5,336.5L513.0,345.5Z"/>
<path class="k" d="M460.0,360.0L460.0,380.0M465.0,360.0L466.2,380.0M472.5,363.8L472.5,375.0M480.0,365.5L480.0,373.0M485.0,365.5L485.0,372.5M490.0,364.5L490.0,371.2M495.0,363.0L495.0,370.0"/>
<path class="k" d="M392.5,375.0L392.5,398.0Q400.5,403.0 408.8,398.0L408.8,376.2M420.0,380.0Q427.5,385.0 440.0,380.0"/>
<path class="t" d="M395.0,360.0L415.0,372.5L420.0,370.0M408.8,370.0L420.0,373.0"/>
<path class="k" d="M500.0,245.0L500.0,302.5L557.5,303.8L560.0,295.0L581.2,290.0L581.2,230.0L572.5,226.2M500.0,245.0L510.0,242.5"/>
<path class="k" d="M510.0,247.5Q525.0,255.0 542.5,247.5M515.0,245.0L515.0,302.5M522.5,265.0L522.5,302.5M530.0,255.0L530.0,302.5"/>
<path class="k" d="M522.5,265.0L545.0,260.0L545.0,270.0L530.0,273.8M530.0,285.0L560.0,278.8L560.0,295.0M530.0,290.0L556.2,285.0"/>
<path class="k" d="M562.5,243.8L562.5,292.5M567.5,235.0L567.5,292.5M573.8,230.0L575.0,291.2M562.5,243.8L567.5,235.0L573.8,230.0"/>
<path class="k" d="M535.0,235.0L535.0,252.5M542.5,237.5L542.5,255.0M536.2,245.0L541.2,246.2M536.2,250.0L541.2,251.2"/>
<ellipse class="k" cx="547.5" cy="257.5" rx="5.5" ry="7.5"/>
<path class="k" d="M556.2,300.0L556.2,305.0L560.0,305.0L560.0,300.0"/>
<path class="k" d="M505.0,248.8Q510.0,245.0 510.0,235.0L510.0,220.0M517.5,220.0L517.5,240.0M525.0,220.0L525.0,235.0"/>
<path class="t" d="M575.0,230.0L578.8,227.5L581.2,230.0M575.0,245.0L580.0,243.8M575.0,265.0L580.5,263.0M575.0,282.5L581.0,280.0"/>
<path class="k" d="M353.8,367.5L353.8,420.0M358.8,370.0L358.8,410.0M355.5,367.5L355.5,410.0M357.0,367.5L357.0,410.0"/>
<path class="t" d="M367.5,375.0L367.5,420.0M385.0,375.0L385.0,420.0M371.2,375.0L371.2,420.0"/>
<ellipse class="t" cx="365.5" cy="401.2" rx="1.0" ry="3.0" transform="rotate(15.0 365.5 401.2)"/>
<ellipse class="t" cx="395.0" cy="407.5" rx="1.0" ry="3.0" transform="rotate(15.0 395.0 407.5)"/>
<ellipse class="k" cx="313.0" cy="385.8" rx="4.0" ry="2.2" transform="rotate(15.0 313.0 385.8)"/>
</g>
<g class="e"><path class="k" d="M970.0,770.5L1011.2,777.0L1046.2,810.0L1046.2,790.0M975.0,775.0L995.0,778.8L1035.0,813.8"/>
<path class="k" d="M937.5,836.2Q945.0,815.0 980.0,810.0Q1020.0,807.0 1046.2,818.0"/>
<path class="k" d="M982.5,767.5L982.5,763.8L992.5,765.5L992.5,771.2M983.8,765.5L991.2,767.0"/>
<path class="k" d="M960.0,797.5L970.0,803.0L925.0,830.5L913.8,825.0M962.5,800.0Q967.5,797.5 970.0,803.0M963.8,802.5L967.5,804.5"/>
<path class="f" d="M895.0,725.0L932.5,703.8L992.5,715.5L1001.2,742.5L970.0,761.2L940.0,785.0L902.5,815.0L877.5,825.0Z"/>
<path class="k" d="M895.0,725.0L932.5,703.8M992.5,715.5L1001.2,742.5L970.0,761.2M902.5,815.0L940.0,785.0"/>
<path class="w" d="M940.0,785.0L956.2,774.5L960.0,797.5L925.0,830.0L913.8,825.0L926.2,800.0L940.0,785.0Z"/>
<path class="t" d="M956.2,774.5L970.0,767.5M960.0,775.0L963.8,796.2"/>
<path class="k2" d="M920.0,710.0Q941.2,715.5 957.0,745.0Q965.5,763.0 964.0,775.5"/>
<path class="k" d="M923.8,708.0Q945.0,713.8 960.5,743.0Q969.0,761.2 967.5,773.0"/>
<path class="k2" d="M927.5,706.5Q948.0,712.0 963.5,741.2Q971.5,759.0 970.0,770.5"/>
<path class="t" d="M931.2,705.0Q951.2,710.5 966.2,739.5Q973.8,757.0 972.5,768.0"/>
<path class="k" d="M901.2,726.2Q920.0,732.5 933.8,757.5Q941.2,775.0 940.0,785.0"/>
<path class="t" d="M895.0,725.0Q913.0,731.5 927.0,755.0Q935.5,773.0 934.5,789.0"/>
<path class="k" d="M950.0,715.5L955.0,723.0Q970.0,730.5 983.0,723.0L992.5,715.5"/>
<path class="k" d="M955.0,723.0Q960.5,733.0 975.0,748.0Q983.0,745.0 986.5,735.0L992.5,715.5"/>
<path class="t" d="M992.5,715.5L1000.0,725.0L1001.2,742.5M995.0,722.5L998.0,732.5L999.5,732.0"/>
<path class="w" d="M932.5,696.5Q931.0,677.5 952.5,668.8Q970.0,662.5 990.0,668.8Q1007.5,676.2 1007.5,695.0L1008.0,699.0Q1005.0,711.5 980.0,717.0Q950.0,720.5 933.8,704.0Q931.0,700.0 932.5,696.5Z"/>
<path class="k" d="M934.5,696.5Q952.5,713.0 980.0,710.2Q1000.5,706.5 1006.5,694.5"/>
<path class="t" d="M933.5,700.0Q952.5,716.5 980.0,713.8Q1001.5,710.0 1007.5,698.5"/>
<ellipse class="k" cx="970.0" cy="678.8" rx="5.5" ry="3.5"/>
<path class="t" d="M948.9,690.0A22.5,14.5 0.0 1 1 981.2,697.6"/>
<path class="t" d="M955.0,670.0L992.5,695.5L993.0,714.5"/>
<ellipse class="w" cx="863.8" cy="790.5" rx="36.2" ry="22.5" transform="rotate(72.0 863.8 790.5)"/>
<ellipse class="k2" cx="864.2" cy="790.5" rx="36.2" ry="22.5" transform="rotate(72.0 864.2 790.5)"/>
<ellipse class="k" cx="865.0" cy="791.5" rx="28.0" ry="16.0" transform="rotate(72.0 865.0 791.5)"/>
<path class="t" d="M857.5,770.0Q872.5,767.5 878.8,790.0Q881.2,805.0 873.8,812.5L870.0,810.0L871.2,805.0Q863.8,810.0 857.5,800.0Q847.5,785.0 855.0,775.0L860.0,775.0Z"/>
<path class="k" d="M850.0,757.0Q870.0,730.5 895.0,725.0"/>
<path class="k" d="M867.5,752.5Q882.5,735.0 902.5,729.5M880.0,765.0Q895.0,745.0 915.0,737.5M888.8,790.0Q902.5,767.5 925.0,755.0M887.5,805.0Q905.0,790.0 930.0,775.0"/>
<path class="k2" d="M870.0,755.0L892.5,735.0M877.5,760.0L895.0,742.5M895.0,800.0L920.0,790.0M897.5,805.0L925.0,795.0"/>
<path class="k" d="M905.0,755.0L925.0,745.0L930.0,752.5L910.0,763.8ZM907.5,757.5L927.5,748.0M908.8,760.0L928.8,750.5"/>
<path class="k" d="M877.5,825.0Q895.0,820.0 902.5,815.0M852.5,816.2L860.0,822.5L877.5,825.0"/>
<path class="t" d="M915.0,737.5Q930.0,750.0 933.8,770.0Q935.0,785.0 930.0,802.5"/>
<path class="k" d="M829.5,808.0L837.5,790.0L844.0,792.5L852.5,810.5L845.0,813.0ZM829.5,808.0L827.5,810.0"/>
<path class="t" d="M852.5,816.2Q857.5,825.0 870.0,822.5Q885.0,825.0 902.5,817.5"/>
<path class="w" d="M1042.5,790.5Q1045.0,786.2 1050.0,787.0L1066.2,790.0Q1070.5,795.0 1066.2,800.0L1051.2,801.5Q1043.8,800.0 1042.5,790.5Z"/>
<path class="t" d="M1050.0,787.0Q1053.8,793.8 1051.2,801.5M1063.8,789.5Q1067.5,795.0 1064.5,800.0"/>
<path class="k" d="M1067.5,793.8L1075.0,795.0L1075.0,798.0L1067.5,798.0M1037.5,790.0L1042.5,791.2"/>
</g>
<g class="e"><ellipse class="k" cx="995.9" cy="843.7" rx="60.5" ry="36.1"/>
<ellipse class="t" cx="995.9" cy="843.7" rx="57.7" ry="33.7"/>
<path class="t" d="M1055.5,852.4A60.5,36.1 0.0 0 1 936.4,852.4"/>
<path class="k2" d="M985.1,809.3L1007.4,809.3L1003.0,823.6Q995.9,825.9 989.8,823.6Z"/>
<path class="k2" d="M989.8,852.7Q996.9,850.3 1003.9,852.7L1008.6,877.3L985.1,878.4Z"/>
<path class="k2" d="M937.1,833.9L965.2,835.3Q974.8,842.1 965.2,849.1L938.3,850.8"/>
<path class="k2" d="M1055.4,834.4L1026.2,835.8Q1017.0,842.1 1026.2,849.1L1054.5,850.8"/>
<path class="k2" d="M953.5,823.6L972.7,815.2L980.9,826.9L969.2,830.6Z"/>
<path class="k2" d="M1037.2,823.6L1018.4,815.2L1010.9,826.9L1023.1,830.6Z"/>
<path class="k2" d="M954.7,857.8L971.1,850.3L980.9,855.5L969.2,865.8Z"/>
<path class="k2" d="M1036.7,857.8L1021.7,850.3L1010.9,855.5L1023.1,865.8Z"/>
<path class="k" d="M980.9,826.9Q996.4,833.0 1010.9,826.9M980.9,855.5Q996.4,848.4 1010.9,855.5M969.2,830.6Q976.2,838.6 971.1,850.3M1023.1,830.6Q1016.5,838.6 1021.7,850.3"/>
<path class="t" d="M996.4,824.5L996.4,851.7M974.6,838.6L1018.0,838.6"/>
<ellipse class="t" cx="973.9" cy="824.5" rx="2.8" ry="2.1"/>
<ellipse class="t" cx="1018.4" cy="824.5" rx="2.8" ry="2.1"/>
<ellipse class="t" cx="973.9" cy="851.7" rx="2.8" ry="2.1"/>
<ellipse class="t" cx="1018.4" cy="851.7" rx="2.8" ry="2.1"/>
<path class="k" d="M838.7,828.0L838.7,878.4L873.1,895.3L943.4,903.7L969.2,896.0"/>
<path class="k" d="M842.2,826.9L882.0,848.4L970.6,893.0M882.0,848.4L896.6,835.3M926.6,865.8L941.1,855.5M838.7,836.2L875.0,857.3L964.0,901.9"/>
<path class="k" d="M822.3,830.6L837.5,828.0L837.5,850.3L826.2,861.1L822.3,857.3ZM828.1,830.4L828.1,857.3M822.3,838.6L825.8,838.6M822.3,852.7L825.8,852.7"/>
<path class="k" d="M838.7,828.0L842.2,825.7L903.1,815.2L921.9,830.6"/>
<path class="k" d="M967.5,898.8Q995.0,903.0 1032.5,890.5Q1070.0,873.0 1071.2,845.5Q1071.2,827.5 1050.5,815.5"/>
<path class="k" d="M1071.2,855.0L1073.0,970.0M967.5,898.8L967.5,935.0M967.5,925.5Q1020.0,936.2 1071.2,912.5"/>
<path class="k" d="M967.5,898.8L945.0,903.0M972.5,892.5L967.5,898.8"/>
<path class="k" d="M1072.5,852.5Q1082.5,855.0 1082.5,863.0L1082.5,880.0Q1088.0,885.5 1085.0,895.5L1085.0,950.0Q1080.0,958.0 1073.0,958.0"/>
<path class="t" d="M1076.2,857.5L1077.5,955.0M1073.0,895.0Q1080.0,892.5 1083.8,886.2M1073.0,905.0Q1080.0,903.8 1085.0,897.5"/>
<path class="k" d="M840.0,880.0L873.8,896.2L945.0,903.0"/>
<path class="k" d="M840.0,880.0L840.0,912.5L861.2,926.2L861.2,992.5Q862.5,1003.0 870.0,1004.0L905.0,1002.5L918.0,997.0"/>
<path class="k" d="M873.8,896.2L872.5,930.0L881.2,935.0L881.2,947.5Q883.8,952.5 886.2,947.5L886.2,940.0"/>
<path class="t" d="M840.0,912.5L840.0,980.0L861.2,992.5M845.0,916.2L845.0,982.5M850.0,918.8L850.0,985.0"/>
<path class="t" d="M877.5,935.0L877.5,1002.5M905.0,947.5L905.0,1002.5M908.8,947.5L908.8,1001.2"/>
<path class="t" d="M876.2,902.5L876.2,926.2Q877.5,930.0 882.5,928.8"/>
<path class="k2" d="M888.8,895.5L889.5,943.0"/>
<path class="k" d="M893.0,896.2L894.0,943.8"/>
<path class="k2" d="M897.5,897.0L898.2,944.5"/>
<path class="k" d="M902.0,898.0L902.5,945.5"/>
<path class="k2" d="M906.2,898.8L907.0,946.2"/>
<path class="k" d="M910.5,899.5L911.5,947.0"/>
<path class="k2" d="M915.0,900.2L915.8,947.8"/>
<path class="k" d="M919.5,901.0L920.0,948.5"/>
<path class="k2" d="M923.8,902.0L924.5,949.5"/>
<path class="k" d="M928.0,902.8L929.0,950.2"/>
<path class="k2" d="M932.5,903.5L933.2,951.0"/>
<path class="k" d="M937.0,904.2L937.5,951.8"/>
<path class="k2" d="M941.2,905.0L942.0,952.5"/>
<path class="k" d="M887.5,895.5L942.5,905.0L942.5,952.5L888.8,943.0"/>
<path class="k" d="M942.5,912.5L955.0,916.2L956.2,935.0M945.0,942.5L950.0,943.8L950.0,952.5"/>
<path class="w" d="M965.5,950.0L992.5,1000.5L1005.0,995.5L980.0,945.5Z"/>
<ellipse class="w" cx="970.0" cy="937.0" rx="12.0" ry="9.0" transform="rotate(-15.0 970.0 937.0)"/>
<path class="k2" d="M981.6,936.9A12.0,9.0 -15.0 0 1 958.4,943.1"/>
<path class="k2" d="M963.8,937.5L972.5,931.2M967.5,940.0L970.0,933.8L975.0,936.2"/>
<path class="k" d="M995.0,1002.5Q1000.0,1005.0 1006.2,1000.0"/>
<path class="w" d="M920.0,977.5L947.5,962.5Q960.0,965.0 963.8,980.0Q965.0,990.0 960.0,995.0L935.0,1010.0Z"/>
<ellipse class="w" cx="926.2" cy="992.5" rx="14.0" ry="19.0" transform="rotate(-18.0 926.2 992.5)"/>
<ellipse class="k" cx="928.0" cy="992.0" rx="11.0" ry="15.5" transform="rotate(-18.0 928.0 992.0)"/>
<ellipse class="k2" cx="926.2" cy="992.5" rx="14.0" ry="19.0" transform="rotate(-18.0 926.2 992.5)"/>
<path class="k" d="M947.5,962.5L920.0,977.0M960.0,995.0L934.5,1010.5"/>
<path class="t" d="M955.0,963.8Q966.2,970.0 967.5,985.0Q967.5,992.5 963.8,996.2"/>
<path class="k" d="M937.5,960.0L945.0,942.5L950.0,943.8L950.0,960.0M960.0,960.0Q970.0,955.0 980.0,960.0L980.0,990.0Q970.0,1000.0 963.8,996.2"/>
<path class="k" d="M985.0,947.5L995.0,945.5L995.0,955.0M990.0,948.8Q992.5,946.2 993.8,950.0"/>
<ellipse class="t" cx="990.0" cy="949.5" rx="2.5" ry="2.5"/>
<path class="k" d="M980.0,1000.0L1017.5,1005.5L1077.5,970.5L1077.5,990.0L1020.0,1025.0L1020.0,1030.0M1017.5,1005.5L1020.0,1025.0M980.0,1000.0L980.0,1020.0"/>
<path class="t" d="M982.5,1005.0L1015.0,1010.0M1025.0,1005.0L1075.0,976.2"/>
<path class="t" d="M1005.0,947.5L1005.0,995.0M1025.0,947.5L1026.2,990.0M1012.5,947.5L1012.5,1000.0"/>
<path class="k" d="M937.5,1005.0L960.0,1010.0L970.0,1005.0M940.0,1010.0L957.5,1015.0L972.5,1007.5M960.0,1002.5L970.0,1000.0"/>
<path class="k2" d="M1032.5,1022.5L1032.5,1030.0"/>
<path class="k2" d="M1040.0,1018.0L1040.0,1030.0"/>
<path class="k2" d="M1047.5,1013.8L1047.5,1030.0"/>
<path class="k2" d="M1055.0,1009.2L1055.0,1030.0"/>
<path class="k2" d="M1061.2,1005.8L1061.2,1030.0"/>
<path class="k2" d="M1067.5,1002.0L1067.5,1030.0"/>
<path class="k" d="M970.0,1020.0L970.0,1030.0M977.5,1015.0L977.5,1030.0M985.0,1020.0L985.0,1030.0M1003.8,1022.5L1006.2,1030.0"/>
<path class="k" d="M819.2,890.6Q819.2,888.3 822.0,887.8L835.2,887.3L836.1,954.8L822.5,956.5Q818.7,956.2 818.7,952.5Z"/>
<path class="k" d="M819.2,913.6Q823.4,914.8 828.1,918.7L829.5,953.9M835.2,887.3L837.5,890.1L837.5,953.4"/>
<path class="t" d="M815.5,915.9L818.3,915.9M815.5,932.3L818.3,932.3M815.5,915.9L815.5,920.6M815.5,932.3L815.5,937.0"/>
<path class="k" d="M937.5,1025.0L945.0,1020.0L950.0,1023.8L943.8,1030.0"/>
</g>
<g class="e"><path class="k" d="M975.0,997.5L1017.5,1009.0L1077.5,969.0L1079.0,1007.5L1072.5,1012.5L1072.5,1026.2L1060.0,1032.5L1055.0,1032.5L1040.0,1042.5L1030.0,1047.5L1008.0,1058.0Q995.0,1060.5 988.0,1055.5L985.5,1043.0L962.5,1035.0L953.0,1030.5"/>
<path class="k" d="M982.5,999.5L1015.5,1008.0L1073.0,971.5M981.5,1004.5L1017.5,1014.5L1075.5,978.0M1017.5,1009.0L1019.0,1045.0"/>
<path class="k" d="M983.8,1010.0L986.2,1042.5L1000.0,1047.5L1003.8,1027.5L1010.0,1025.5L1011.2,1042.5M990.0,1037.5Q995.0,1033.8 998.8,1038.0L998.8,1045.0"/>
<path class="k2" d="M1028.8,1016.2L1028.8,1046.2"/>
<path class="k2" d="M1033.8,1013.8L1033.8,1043.8"/>
<path class="k2" d="M1050.0,1003.8L1050.0,1032.5"/>
<path class="k2" d="M1056.2,1000.0L1056.2,1032.5"/>
<path class="k2" d="M1062.5,995.0L1062.5,1030.0"/>
<path class="k2" d="M1066.2,992.5L1066.2,1027.5"/>
<path class="k" d="M1040.0,1013.8Q1043.8,1011.2 1047.5,1013.8L1047.5,1030.0M1072.5,997.5Q1075.0,996.2 1076.2,998.8L1076.2,1007.5"/>
<path class="k" d="M962.5,1035.0L962.5,1020.0L968.8,1018.8L970.0,1035.0M975.0,1020.0L975.0,1037.5M980.0,1020.0L980.5,1039.5"/>
<path class="k" d="M952.5,1030.5L953.0,1022.5L960.0,1018.0M972.5,1002.5L975.0,997.5M960.0,997.5L975.0,1002.5L975.0,1017.5"/>
<path class="k" d="M935.0,1000.0L953.8,997.5L968.8,1002.5L957.5,1013.8L940.0,1008.8ZM957.5,1013.8L956.2,1018.0"/>
<path class="k" d="M937.5,1025.5L945.0,1021.2L950.0,1027.5L943.0,1032.5ZM945.0,1021.2L947.5,1019.5L953.0,1025.5L950.0,1027.5"/>
<path class="w" d="M845.0,1077.0L920.0,1034.0L926.2,1031.5L940.0,1023.8L946.2,1027.5L947.5,1033.0L932.5,1040.0L925.0,1043.0L851.2,1085.5Z"/>
<path class="k" d="M920.0,1034.0L925.0,1043.0M926.2,1031.5L932.5,1040.0M850.0,1076.2L854.5,1085.0"/>
<path class="k" d="M845.0,1077.0L837.0,1082.5L836.2,1087.5L840.0,1093.0L851.2,1085.5"/>
<path class="w" d="M836.2,1087.5L830.0,1090.0L817.5,1094.5L812.5,1098.0L814.5,1103.8L820.0,1105.5L832.5,1100.0L840.0,1093.0"/>
<path class="t" d="M817.5,1094.5L820.0,1105.5M830.0,1090.0L832.5,1100.0M814.5,1100.0L831.2,1093.8"/>
</g>
<g class="g">
<line x1="225.25" y1="113.00" x2="251.25" y2="223.75"/><polygon points="251.25,223.75 244.28,208.95 250.90,207.40"/>
<line x1="597.50" y1="525.50" x2="358.75" y2="407.50"/><polygon points="358.75,407.50 374.60,411.54 371.59,417.64"/>
<line x1="188.75" y1="232.50" x2="230.00" y2="305.00"/><polygon points="230.00,305.00 219.13,292.77 225.04,289.41"/>
<line x1="647.50" y1="113.00" x2="558.75" y2="121.75"/><polygon points="558.75,121.75 574.34,116.80 575.01,123.56"/>
<line x1="597.75" y1="388.70" x2="692.50" y2="369.50"/><polygon points="692.50,369.50 677.49,376.01 676.14,369.35"/>
<line x1="595.00" y1="405.40" x2="622.00" y2="421.25"/><polygon points="622.00,421.25 606.48,416.08 609.92,410.22"/>
<line x1="558.75" y1="582.50" x2="426.25" y2="588.75"/><polygon points="426.25,588.75 442.07,584.60 442.39,591.39"/>
<line x1="527.00" y1="623.25" x2="426.25" y2="604.25"/><polygon points="426.25,604.25 442.60,603.87 441.34,610.56"/>
<line x1="504.50" y1="643.00" x2="470.00" y2="577.00"/><polygon points="470.00,577.00 480.43,589.60 474.40,592.75"/>
<line x1="495.00" y1="651.75" x2="440.00" y2="618.75"/><polygon points="440.00,618.75 455.47,624.07 451.97,629.90"/>
<line x1="494.25" y1="655.00" x2="337.00" y2="592.50"/><polygon points="337.00,592.50 353.12,595.25 350.61,601.57"/>
<line x1="403.75" y1="619.00" x2="377.50" y2="555.00"/><polygon points="377.50,555.00 386.72,568.51 380.43,571.09"/>
<line x1="460.00" y1="703.25" x2="415.00" y2="688.75"/><polygon points="415.00,688.75 431.27,690.42 429.19,696.89"/>
<line x1="280.75" y1="752.50" x2="303.75" y2="715.50"/><polygon points="303.75,715.50 298.19,730.88 292.42,727.29"/>
<line x1="351.25" y1="754.50" x2="391.25" y2="725.00"/><polygon points="391.25,725.00 380.39,737.23 376.36,731.76"/>
<line x1="318.25" y1="826.25" x2="358.75" y2="820.75"/><polygon points="358.75,820.75 343.35,826.27 342.44,819.53"/>
<line x1="361.75" y1="859.50" x2="396.75" y2="845.75"/><polygon points="396.75,845.75 383.10,854.76 380.61,848.44"/>
<line x1="377.00" y1="903.25" x2="400.00" y2="878.25"/><polygon points="400.00,878.25 391.67,892.33 386.66,887.72"/>
<line x1="531.25" y1="825.50" x2="411.25" y2="753.75"/><polygon points="411.25,753.75 426.73,759.04 423.24,764.88"/>
<line x1="614.25" y1="748.75" x2="590.00" y2="718.00"/><polygon points="590.00,718.00 602.58,728.46 597.24,732.67"/>
<line x1="812.50" y1="743.75" x2="850.00" y2="755.75"/><polygon points="850.00,755.75 833.72,754.11 835.80,747.64"/>
<line x1="1119.50" y1="777.00" x2="1075.00" y2="798.00"/><polygon points="1075.00,798.00 1088.02,788.10 1090.92,794.25"/>
<line x1="767.00" y1="977.50" x2="850.00" y2="948.75"/><polygon points="850.00,948.75 835.99,957.20 833.77,950.77"/>
<line x1="845.50" y1="1030.00" x2="938.75" y2="992.50"/><polygon points="938.75,992.50 925.17,1001.62 922.64,995.32"/>
<line x1="907.50" y1="1093.25" x2="876.25" y2="1070.00"/><polygon points="876.25,1070.00 891.12,1076.82 887.06,1082.28"/>
<line x1="885.88" y1="371.50" x2="852.50" y2="383.75"/><polygon points="852.50,383.75 866.35,375.05 868.69,381.43"/>
<line x1="782.89" y1="531.15" x2="716.25" y2="390.00"/><polygon points="716.25,390.00 726.16,403.02 720.01,405.92"/>
<line x1="780.73" y1="532.32" x2="698.75" y2="398.75"/><polygon points="698.75,398.75 710.02,410.61 704.22,414.16"/>
<line x1="772.89" y1="540.46" x2="631.25" y2="460.75"/><polygon points="631.25,460.75 646.86,465.63 643.53,471.56"/>
<line x1="722.83" y1="563.54" x2="696.25" y2="411.25"/><polygon points="696.25,411.25 702.35,426.43 695.65,427.60"/>
<line x1="711.95" y1="568.71" x2="628.00" y2="472.00"/><polygon points="628.00,472.00 641.06,481.85 635.92,486.31"/>
</g>
<g class="c">
<circle cx="220.00" cy="90.00" r="22.5"/>
<text transform="translate(220.00 97.30) scale(.84 1)" x="0" y="0">238</text>
<circle cx="177.50" cy="211.75" r="22.5"/>
<text transform="translate(177.50 219.05) scale(.84 1)" x="0" y="0">212</text>
<circle cx="670.00" cy="109.00" r="22.5"/>
<text transform="translate(670.00 116.30) scale(.84 1)" x="0" y="0">32</text>
<circle cx="907.00" cy="362.00" r="22.5"/>
<text transform="translate(907.00 369.30) scale(.84 1)" x="0" y="0">41</text>
<circle cx="575.00" cy="393.00" r="22.5"/>
<text transform="translate(575.00 400.30) scale(.84 1)" x="0" y="0">47</text>
<circle cx="618.75" cy="536.25" r="22.5"/>
<text transform="translate(618.75 543.55) scale(.84 1)" x="0" y="0">241</text>
<circle cx="792.50" cy="551.50" r="22.5"/>
<text transform="translate(792.50 558.80) scale(.84 1)" x="0" y="0">114</text>
<circle cx="581.25" cy="581.75" r="22.5"/>
<text transform="translate(581.25 589.05) scale(.84 1)" x="0" y="0">10</text>
<circle cx="624.50" cy="581.75" r="22.5"/>
<text transform="translate(624.50 589.05) scale(.84 1)" x="0" y="0">87</text>
<circle cx="726.70" cy="585.70" r="22.5"/>
<text transform="translate(726.70 593.00) scale(.84 1)" x="0" y="0">4</text>
<circle cx="548.00" cy="628.75" r="22.5"/>
<text transform="translate(548.00 636.05) scale(.84 1)" x="0" y="0">174</text>
<circle cx="515.75" cy="663.25" r="22.5"/>
<text transform="translate(515.75 670.55) scale(.84 1)" x="0" y="0">65</text>
<circle cx="482.30" cy="710.00" r="22.5"/>
<text transform="translate(482.30 717.30) scale(.84 1)" x="0" y="0">160</text>
<circle cx="269.25" cy="772.00" r="22.5"/>
<text transform="translate(269.25 779.30) scale(.84 1)" x="0" y="0">185</text>
<circle cx="333.00" cy="768.00" r="22.5"/>
<text transform="translate(333.00 775.30) scale(.84 1)" x="0" y="0">108</text>
<circle cx="628.75" cy="766.75" r="22.5"/>
<text transform="translate(628.75 774.05) scale(.84 1)" x="0" y="0">223</text>
<circle cx="550.75" cy="837.50" r="22.5"/>
<text transform="translate(550.75 844.80) scale(.84 1)" x="0" y="0">186</text>
<circle cx="295.50" cy="830.00" r="22.5"/>
<text transform="translate(295.50 837.30) scale(.84 1)" x="0" y="0">222</text>
<circle cx="340.50" cy="868.00" r="22.5"/>
<text transform="translate(340.50 875.30) scale(.84 1)" x="0" y="0">103</text>
<circle cx="361.25" cy="920.00" r="22.5"/>
<text transform="translate(361.25 927.30) scale(.84 1)" x="0" y="0">89</text>
<circle cx="744.50" cy="736.75" r="22.5"/>
<text transform="translate(744.50 744.05) scale(.84 1)" x="0" y="0">32.5</text>
<circle cx="790.00" cy="736.75" r="22.5"/>
<text transform="translate(790.00 744.05) scale(.84 1)" x="0" y="0">32.4</text>
<circle cx="1140.00" cy="767.00" r="22.5"/>
<text transform="translate(1140.00 774.30) scale(.84 1)" x="0" y="0">32.2</text>
<circle cx="745.00" cy="986.25" r="22.5"/>
<text transform="translate(745.00 993.55) scale(.84 1)" x="0" y="0">32.1</text>
<circle cx="823.75" cy="1039.25" r="22.5"/>
<text transform="translate(823.75 1046.55) scale(.84 1)" x="0" y="0">32.3</text>
<circle cx="925.75" cy="1107.00" r="22.5"/>
<text transform="translate(925.75 1114.30) scale(.84 1)" x="0" y="0">202</text>
</g>
<g class="wm" fill="#d2d2d2">
<rect x="336.50" y="521.25" width="20.00" height="100.00"/>
<rect x="326.00" y="521.25" width="11.00" height="11.25"/>
<rect x="326.00" y="610.00" width="41.00" height="11.25"/>
<path fill-rule="evenodd" d="M356,521.25H384C402,521.25 410,533 410,551.6C410,570 402,582 384,582H356ZM356,535H378C387,535 390,541 390,551.6C390,562 387,568.5 378,568.5H356Z"/>
<path fill="none" stroke="#d2d2d2" stroke-width="19" d="M429,566C432,552 446,554.5 452,555C464,556 467.5,562 467.5,574V621.25"/>
<ellipse cx="445" cy="601" rx="20" ry="12.2" fill="none" stroke="#d2d2d2" stroke-width="16.5"/>
<rect x="476.00" y="610.00" width="6.50" height="11.25"/>
<rect x="496.25" y="547.50" width="20.00" height="73.75"/>
<rect x="486.25" y="547.50" width="10.75" height="11.00"/>
<rect x="486.25" y="610.00" width="38.75" height="11.25"/>
<path d="M516,556C520,549 528,545 537,546.5V564C528,562 520,566 516,574Z"/>
<rect x="552.50" y="528.75" width="20.00" height="92.50"/>
<rect x="542.50" y="546.25" width="45.00" height="13.75"/>
<path d="M572,608.75H587.5V616C586,620 582,621.25 578,621.25H572Z"/>
<path fill="none" stroke="#d2d2d2" stroke-width="17.5" d="M644,570C641,552 603,549.5 603,568C603,588 643.5,579 643.5,601C643.5,619 603,617.5 600,597"/>
<rect x="650.00" y="521.25" width="88.75" height="14.75"/>
<rect x="650.00" y="535.00" width="12.00" height="12.50"/>
<rect x="726.75" y="535.00" width="12.00" height="12.50"/>
<rect x="683.75" y="521.25" width="20.00" height="99.35"/>
<rect x="673.00" y="608.75" width="40.75" height="11.85"/>
<rect x="750.00" y="547.50" width="20.00" height="73.10"/>
<rect x="740.00" y="547.50" width="11.00" height="11.00"/>
<rect x="740.00" y="608.75" width="38.00" height="11.85"/>
<path d="M769,556C773,549 781,545 790.4,546.5V566C781,563 773,567 769,575Z"/>
<ellipse cx="823.20" cy="583.70" rx="23.60" ry="30.10" fill="none" stroke="#d2d2d2" stroke-width="18"/>
<rect x="799.40" y="577.3" width="55.60" height="12.9"/>
<path fill="#fff" d="M832.2,590.3H862.0V612L854.0,614L845.0,602.5H832.2Z"/>
<ellipse cx="895.88" cy="583.70" rx="23.68" ry="30.10" fill="none" stroke="#d2d2d2" stroke-width="18"/>
<rect x="872.00" y="577.3" width="55.75" height="12.9"/>
<path fill="#fff" d="M904.9,590.3H934.8V612L926.8,614L917.8,602.5H904.9Z"/>
<text x="922" y="537" font-size="21.5" style="font-family:'Liberation Sans',sans-serif;font-weight:normal" fill="#d8d8d8">TM</text>
</g>
</svg></body></html>
